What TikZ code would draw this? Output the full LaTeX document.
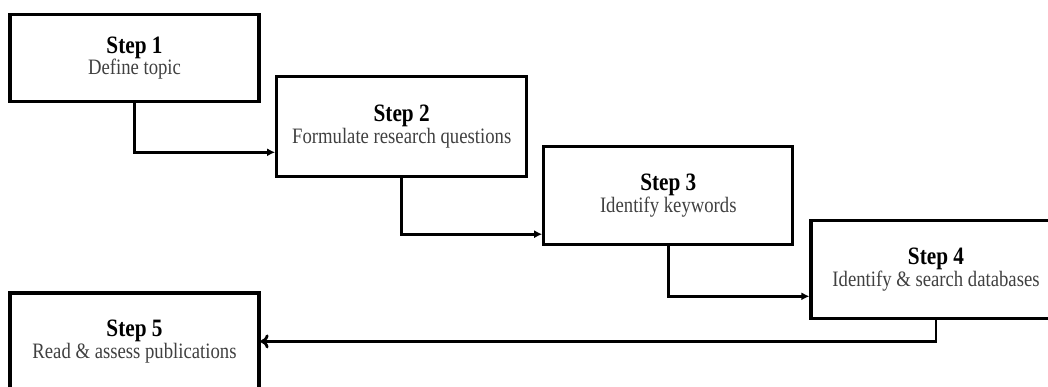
\documentclass[tikz,border=0pt]{standalone}
\usepackage{fontspec}
\setmainfont[FakeStretch=0.85]{Liberation Serif}
\usepackage{xcolor}
\usepackage{tikz}
\usetikzlibrary{positioning,arrows.meta}

\tikzset{
  stepbox/.style={draw, line width=3.2pt, align=center, inner sep=0pt,
    minimum width=249pt, minimum height=98pt},
  flow/.style={line width=2.8pt, -{Latex[length=8pt,width=8pt]}},
  back/.style={line width=2.8pt, -{Computer Modern Rightarrow[length=8pt,width=14pt]}}
}
\newcommand{\steptitle}[1]{{\fontsize{25}{32}\selectfont\bfseries #1}}
\newcommand{\stepdesc}[1]{{\fontsize{22}{26}\selectfont\color{black!75}#1}}

\begin{document}
\begin{tikzpicture}[x=1pt, y=-1pt]
    \useasboundingbox (0,0) rectangle (1048,387);
    \clip (0,0) rectangle (1048,387);

    % Nodes
    \node (step1) [stepbox, minimum height=87pt] at (134.5,58) {\steptitle{Step 1}\\ \stepdesc{Define topic}};
    \node (step2) [stepbox, minimum width=250pt, minimum height=100pt] at (401.7,126.7) {\steptitle{Step 2}\\ \stepdesc{Formulate research questions}};
    \node (step3) [stepbox] at (668.3,195.6) {\steptitle{Step 3}\\ \stepdesc{Identify keywords}};
    \node (step4) [stepbox, minimum width=250pt] at (936,269.7) {\steptitle{Step 4}\\ \stepdesc{Identify \& search databases}};
    \node (step5) [stepbox, minimum height=97pt] at (134.5,341.4) {\steptitle{Step 5}\\ \stepdesc{Read \& assess publications}};

    % Arrows
    \draw[flow] (step1.south) |- ([yshift=26pt]step2.south west);
    \draw[flow] (step2.south) |- ([yshift=12pt]step3.south west);
    \draw[flow] (step3.south) |- ([yshift=24pt]step4.south west);
    \draw[back] (step4.south) |- (step5.east);
  \end{tikzpicture}
\end{document}
